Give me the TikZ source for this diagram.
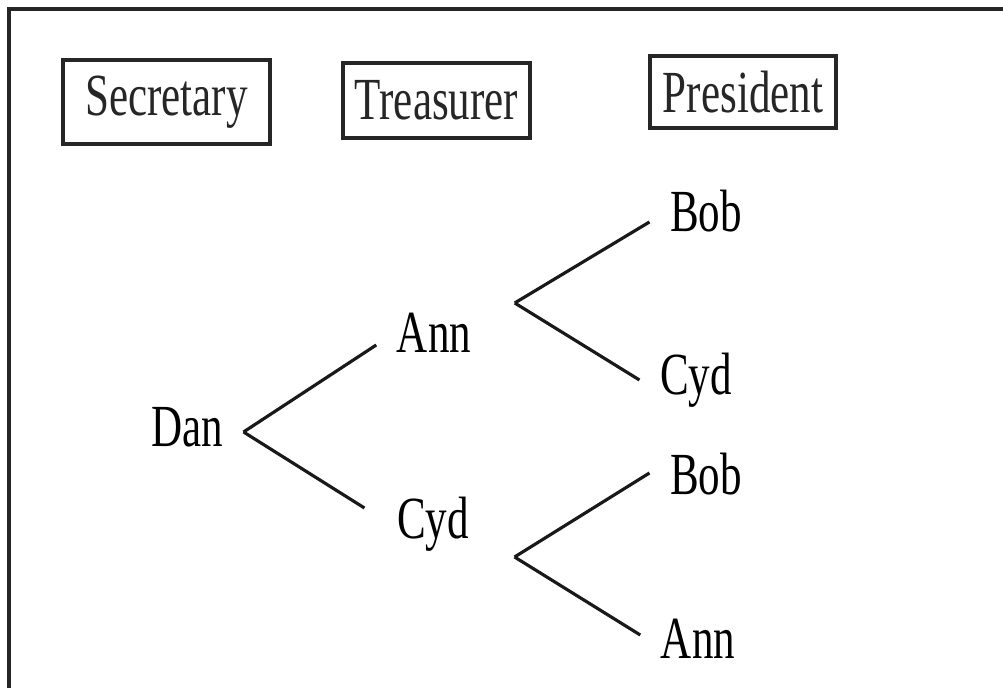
\documentclass[tikz,border=0pt]{standalone}
\usepackage{fontspec}
\setmainfont{Liberation Serif}[FakeStretch=0.72]
\usepackage{tikz}
\tikzstyle{frame} = [line width=0.9pt, black!85]
\tikzstyle{officebox} = [draw, line width=1.1pt, black!85, inner sep=0pt]
\tikzstyle{person} = [inner xsep=0.2cm, inner ysep=0pt, text height=0.42cm, text depth=0.12cm]
\tikzstyle{branch} = [draw, line width=0.9pt, black!90]

\begin{document}
\begin{tikzpicture}
\fontsize{17}{20}\selectfont
\useasboundingbox (0, 0) rectangle (10.03, 6.88);
\draw[frame] (0.09, -0.5) -- (0.09, 6.79) -- (10.5, 6.79);

% column headings
\node[officebox, minimum width=2.07cm, minimum height=0.84cm] at (1.665, 5.86) (secretary) {Secretary};
\node[officebox, minimum width=1.87cm, minimum height=0.75cm] at (4.365, 5.875) (treasurer) {Treasurer};
\node[officebox, minimum width=1.86cm, minimum height=0.72cm] at (7.43, 5.96) (president) {President};

% tree
\node[person] at (1.87, 2.56) (dan) {Dan};
\node[person] at (4.34, 3.50) (ann) {Ann};
\node[person] at (4.33, 1.64) (cyd) {Cyd};
\node[person] at (7.06, 4.71) (bobA) {Bob};
\node[person] at (6.96, 3.08) (cydA) {Cyd};
\node[person] at (7.06, 2.08) (bobB) {Bob};
\node[person] at (6.98, 0.44) (annB) {Ann};

\path[branch] (dan.east) -- ([yshift=-0.07cm]ann.west);
\path[branch] (dan.east) -- ([xshift=-0.12cm, yshift=0.16cm]cyd.west);
\path[branch] ([xshift=0.23cm, yshift=0.35cm]ann.east) -- ([yshift=-0.05cm]bobA.west);
\path[branch] ([xshift=0.23cm, yshift=0.35cm]ann.east) -- (cydA.west);
\path[branch] ([xshift=0.25cm, yshift=-0.33cm]cyd.east) -- ([yshift=0.07cm]bobB.west);
\path[branch] ([xshift=0.25cm, yshift=-0.33cm]cyd.east) -- ([yshift=0.09cm]annB.west);
\end{tikzpicture}
\end{document}
